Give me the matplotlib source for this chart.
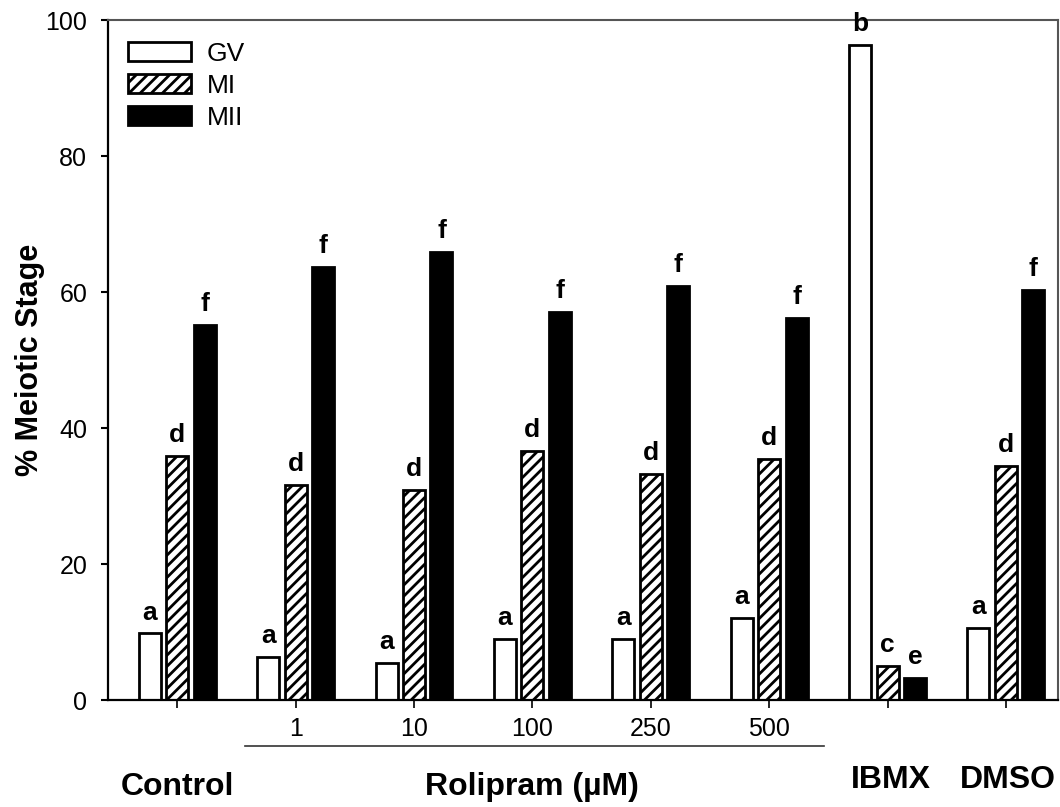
import numpy as np
import matplotlib.pyplot as plt
from matplotlib.patches import Patch

plt.rcParams['font.family'] = ['Liberation Sans', 'DejaVu Sans']
plt.rcParams['hatch.linewidth'] = 2.0

# data
groups = ["Control", "1", "10", "100", "250", "500", "IBMX", "DMSO"]
tick_labels = ["", "1", "10", "100", "250", "500", "", ""]
gv = [9.8, 6.3, 5.4, 9.0, 9.0, 12.1, 96.3, 10.6]
mi = [35.9, 31.6, 30.9, 36.6, 33.2, 35.4, 5.0, 34.4]
mii = [55.1, 63.7, 65.9, 57.1, 60.9, 56.2, 3.2, 60.3]
gv_letters = ["a", "a", "a", "a", "a", "a", "b", "a"]
mi_letters = ["d", "d", "d", "d", "d", "d", "c", "d"]
mii_letters = ["f", "f", "f", "f", "f", "f", "e", "f"]

fig = plt.figure(figsize=(10.6, 8.07), dpi=100)
ax = fig.add_axes([108/1060, 1 - 700/807, 950/1060, 680/807])

x = np.arange(len(groups))
w = 0.186
off = 0.232

ax.bar(x - off, gv, w, color="white", edgecolor="black", linewidth=2.0)
ax.bar(x, mi, w, color="white", edgecolor="black", linewidth=2.0, hatch="///")
ax.bar(x + off, mii, w, color="black", edgecolor="black", linewidth=2.0)

# letters above bars
for xs, vals, lets in [(x - off, gv, gv_letters), (x, mi, mi_letters), (x + off, mii, mii_letters)]:
    for xi, v, l in zip(xs, vals, lets):
        ax.text(xi, v + 1.3, l, ha="center", va="bottom", fontsize=19, fontweight="bold")

ax.set_xlim(-0.585, 7.44)
ax.set_ylim(0, 100)
ax.set_yticks([0, 20, 40, 60, 80, 100])
ax.tick_params(axis="y", labelsize=18, length=5, width=1.5, pad=10, direction="out")
ax.set_xticks(x)
ax.set_xticklabels(tick_labels)
ax.tick_params(axis="x", labelsize=18, length=6, width=1.2, pad=6, direction="out")

for s in ["left", "bottom"]:
    ax.spines[s].set_linewidth(1.6)
for s in ["top", "right"]:
    ax.spines[s].set_linewidth(1.5)
    ax.spines[s].set_color("#555555")

ax.set_ylabel("% Meiotic Stage", fontsize=22, fontweight="bold")
ax.yaxis.set_label_coords(-0.066, 0.5)

# rolipram underline and group labels
trans = ax.get_xaxis_transform()
ax.plot([0.57, 5.46], [-0.068, -0.068], transform=trans, color="#333333", lw=1.2, clip_on=False)
ax.text(0, -0.128, "Control", transform=trans, ha="center", va="center", fontsize=23, fontweight="bold")
ax.text(3.0, -0.128, "Rolipram (\u00b5M)", transform=trans, ha="center", va="center", fontsize=23, fontweight="bold")
ax.text(6.03, -0.117, "IBMX", transform=trans, ha="center", va="center", fontsize=23, fontweight="bold")
ax.text(7.02, -0.117, "DMSO", transform=trans, ha="center", va="center", fontsize=23, fontweight="bold")

handles = [Patch(facecolor="white", edgecolor="black", linewidth=2.0, label="GV"),
           Patch(facecolor="white", edgecolor="black", linewidth=2.0, hatch="///", label="MI"),
           Patch(facecolor="black", edgecolor="black", linewidth=2.0, label="MII")]
ax.legend(handles=handles, loc="upper left", bbox_to_anchor=(0.021, 0.968), frameon=False,
          fontsize=19, handlelength=2.4, handleheight=0.75, labelspacing=0.3,
          handletextpad=0.6, borderpad=0, borderaxespad=0)

fig.savefig("out.png", dpi=100)
